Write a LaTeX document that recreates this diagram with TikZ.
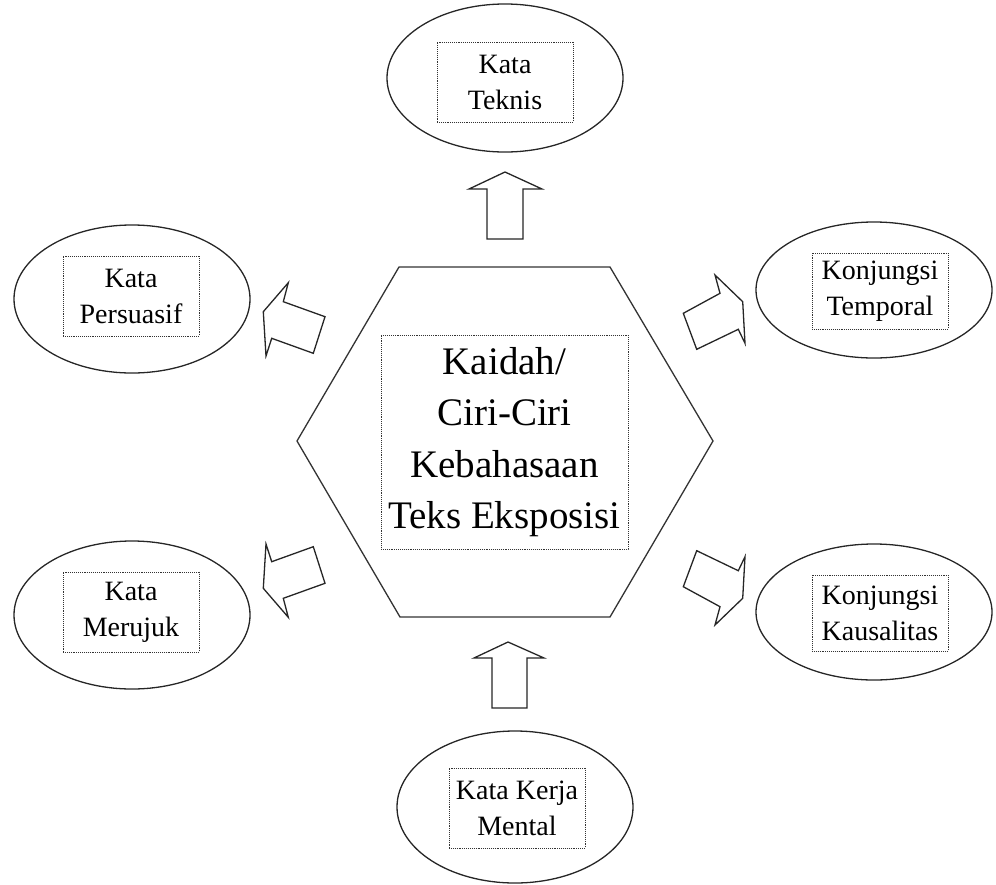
\documentclass[tikz,border=0pt]{standalone}
\usepackage{fontspec}
\setmainfont{Liberation Serif}
\usetikzlibrary{shapes.geometric}
\tikzset{
  oval/.style={draw=black!85, line width=1.3pt, ellipse, minimum width=236pt,
    minimum height=148pt, inner sep=0pt},
  lbl/.style={draw=black!80, densely dotted, line width=0.9pt, minimum width=136pt,
    minimum height=80pt, inner sep=0pt, align=center,
    font=\fontsize{28}{36}\selectfont},
  core/.style={draw=black!80, densely dotted, line width=0.9pt, minimum width=247pt,
    minimum height=214pt, inner sep=0pt, align=center,
    font=\fontsize{39}{51.5}\selectfont},
  hexline/.style={draw=black!80, line width=1.3pt, line join=miter},
  blockarrow/.style={draw=black!85, line width=1.3pt, line join=miter, fill=white}
}
\begin{document}
\begin{tikzpicture}[x=1pt,y=-1pt]
\useasboundingbox (0,0) rectangle (996,884);

% central hexagon
\coordinate (hw) at (297,441);
\coordinate (hnw) at (399,267);
\coordinate (hne) at (610,267);
\coordinate (he) at (713,441);
\coordinate (hse) at (610,617);
\coordinate (hsw) at (400,617);
\draw[hexline] (hw) -- (hnw) -- (hne) -- (he) -- (hse) -- (hsw) -- cycle;
\node[core] (core) at (504.5,442) {Kaidah/\\Ciri-Ciri\\Kebahasaan\\Teks Eksposisi};

% surrounding ovals
\node[oval] (teknis) at (505,78) {};
\node[lbl] (teknisT) at (505,82) {Kata\\Teknis};

\node[oval] (persuasif) at (132,299) {};
\node[lbl] (persuasifT) at (131,296) {Kata\\Persuasif};

\node[oval, minimum height=136pt] (temporal) at (874,290) {};
\node[lbl, minimum height=76pt] (temporalT) at (880,291) {Konjungsi\\Temporal};

\node[oval] (merujuk) at (132,615) {};
\node[lbl] (merujukT) at (131,612) {Kata\\Merujuk};

\node[oval, minimum height=136pt] (kausal) at (874,612) {};
\node[lbl, minimum height=76pt] (kausalT) at (880,613) {Konjungsi\\Kausalitas};

\node[oval, minimum height=152pt] (mental) at (515,807) {};
\node[lbl] (mentalT) at (517,808) {Kata Kerja\\Mental};

% block arrows
\draw[blockarrow] (505,172) -- (542,189) -- (523,189) -- (523,239) -- (487,239)
  -- (487,189) -- (469,189) -- cycle;
\draw[blockarrow] (508,642) -- (544,658) -- (527,658) -- (527,708) -- (492,708)
  -- (492,658) -- (474,658) -- cycle;
\draw[blockarrow] (263.3,311.7) -- (288.3,282.7) -- (283.3,301.7) -- (325,316.7)
  -- (313.3,353.3) -- (271.7,338.3) -- (266,356) -- cycle;
\draw[blockarrow] (742.7,301.7) -- (715,275) -- (720,293.3) -- (683.3,313.3)
  -- (696.7,349.3) -- (738.3,329.3) -- (745,343.3) -- cycle;
\draw[blockarrow] (263.3,588.3) -- (288.3,617.3) -- (283.3,598.3) -- (325,583.3)
  -- (313.3,546.7) -- (271.7,561.7) -- (266,544) -- cycle;
\draw[blockarrow] (742.7,598.3) -- (715,625) -- (720,606.7) -- (683.3,586.7)
  -- (696.7,550.7) -- (738.3,570.7) -- (745,556.7) -- cycle;
\end{tikzpicture}
\end{document}
